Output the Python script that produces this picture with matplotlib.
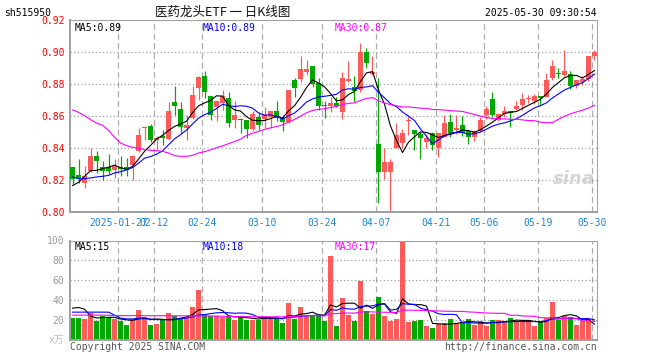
import numpy as np
import pandas as pd
import matplotlib
matplotlib.use('Agg')
import matplotlib.pyplot as plt

plt.rcParams['font.family'] = ['DejaVu Sans Mono', 'Noto Sans CJK SC']

# trading days shown (2025)
dates = [
    '01-15', '01-16', '01-17', '01-20', '01-21', '01-22', '01-23', '01-24', '01-27',
    '02-05', '02-06', '02-07', '02-10', '02-11', '02-12', '02-13', '02-14', '02-17',
    '02-18', '02-19', '02-20', '02-21', '02-24', '02-25', '02-26', '02-27', '02-28',
    '03-03', '03-04', '03-05', '03-06', '03-07', '03-10', '03-11', '03-12', '03-13',
    '03-14', '03-17', '03-18', '03-19', '03-20', '03-21', '03-24', '03-25', '03-26',
    '03-27', '03-28', '03-31',
    '04-01', '04-02', '04-03', '04-07', '04-08', '04-09', '04-10', '04-11', '04-14',
    '04-15', '04-16', '04-17', '04-18', '04-21', '04-22', '04-23', '04-24', '04-25',
    '04-28', '04-29', '04-30',
    '05-06', '05-07', '05-08', '05-09', '05-12', '05-13', '05-14', '05-15', '05-16',
    '05-19', '05-20', '05-21', '05-22', '05-23', '05-26', '05-27', '05-28', '05-29',
    '05-30',
]
tick_dates = ['01-27', '02-12', '02-24', '03-10', '03-24', '04-07', '04-21', '05-06', '05-19', '05-30']
tick_text = ['2025-01-27', '02-12', '02-24', '03-10', '03-24', '04-07', '04-21', '05-06', '05-19', '05-30']

opn = [0.8283, 0.8229, 0.8183, 0.8256, 0.8348, 0.8283, 0.8283, 0.8260, 0.8283, 0.8283,
       0.8294, 0.8383, 0.8525, 0.8538, 0.8448, 0.8477, 0.8458, 0.8685, 0.8646, 0.8525,
       0.8588, 0.8777, 0.8850, 0.8725, 0.8658, 0.8679, 0.8710, 0.8575, 0.8577, 0.8575,
       0.8517, 0.8596, 0.8579, 0.8596, 0.8631, 0.8585, 0.8560, 0.8825, 0.8831, 0.8877,
       0.8913, 0.8804, 0.8665, 0.8663, 0.8679, 0.8627, 0.8819, 0.8783, 0.8763, 0.8998,
       0.8860, 0.8425, 0.8248, 0.8248, 0.8402, 0.8429, 0.8569, 0.8513, 0.8485, 0.8435,
       0.8492, 0.8402, 0.8471, 0.8560, 0.8515, 0.8546, 0.8504, 0.8469, 0.8504, 0.8608,
       0.8706, 0.8577, 0.8615, 0.8633, 0.8646, 0.8667, 0.8708, 0.8696, 0.8723, 0.8719,
       0.8838, 0.8866, 0.8858, 0.8865, 0.8790, 0.8813, 0.8833, 0.8977]
high = [0.8283, 0.8333, 0.8288, 0.8402, 0.8381, 0.8319, 0.8365, 0.8329, 0.8350, 0.8335,
        0.8356, 0.8527, 0.8540, 0.8550, 0.8477, 0.8515, 0.8685, 0.8785, 0.8685, 0.8608,
        0.8785, 0.8852, 0.8881, 0.8725, 0.8694, 0.8763, 0.8752, 0.8694, 0.8585, 0.8575,
        0.8631, 0.8623, 0.8658, 0.8631, 0.8694, 0.8606, 0.8763, 0.8840, 0.8975, 0.8950,
        0.8913, 0.8835, 0.8694, 0.8721, 0.8721, 0.8877, 0.8944, 0.8852, 0.9054, 0.9027,
        0.8977, 0.8835, 0.8398, 0.8331, 0.8554, 0.8517, 0.8600, 0.8513, 0.8502, 0.8485,
        0.8502, 0.8492, 0.8606, 0.8613, 0.8604, 0.8598, 0.8515, 0.8515, 0.8594, 0.8660,
        0.8748, 0.8615, 0.8665, 0.8633, 0.8696, 0.8744, 0.8733, 0.8738, 0.8723, 0.8869,
        0.8952, 0.8900, 0.9015, 0.8879, 0.8827, 0.8848, 0.8977, 0.9015]
low = [0.8173, 0.8183, 0.8152, 0.8250, 0.8246, 0.8198, 0.8235, 0.8215, 0.8225, 0.8225,
       0.8200, 0.8377, 0.8452, 0.8440, 0.8390, 0.8421, 0.8452, 0.8608, 0.8494, 0.8452,
       0.8581, 0.8702, 0.8710, 0.8575, 0.8569, 0.8638, 0.8533, 0.8523, 0.8492, 0.8460,
       0.8506, 0.8513, 0.8523, 0.8523, 0.8569, 0.8506, 0.8554, 0.8721, 0.8815, 0.8856,
       0.8783, 0.8638, 0.8590, 0.8627, 0.8658, 0.8579, 0.8815, 0.8690, 0.8752, 0.8898,
       0.8856, 0.8054, 0.8206, 0.8008, 0.8402, 0.8398, 0.8481, 0.8388, 0.8329, 0.8402,
       0.8388, 0.8342, 0.8471, 0.8471, 0.8488, 0.8473, 0.8425, 0.8442, 0.8498, 0.8581,
       0.8594, 0.8567, 0.8594, 0.8531, 0.8635, 0.8635, 0.8681, 0.8677, 0.8671, 0.8719,
       0.8827, 0.8838, 0.8848, 0.8769, 0.8775, 0.8796, 0.8821, 0.8952]
close = [0.8204, 0.8210, 0.8222, 0.8348, 0.8317, 0.8256, 0.8256, 0.8288, 0.8267, 0.8263,
         0.8350, 0.8483, 0.8533, 0.8450, 0.8465, 0.8465, 0.8633, 0.8660, 0.8531, 0.8546,
         0.8733, 0.8846, 0.8752, 0.8606, 0.8694, 0.8725, 0.8558, 0.8606, 0.8573, 0.8517,
         0.8613, 0.8544, 0.8613, 0.8631, 0.8590, 0.8560, 0.8763, 0.8777, 0.8894, 0.8894,
         0.8800, 0.8665, 0.8660, 0.8683, 0.8663, 0.8835, 0.8829, 0.8756, 0.8998, 0.8929,
         0.8877, 0.8252, 0.8315, 0.8315, 0.8481, 0.8496, 0.8575, 0.8485, 0.8465, 0.8465,
         0.8419, 0.8492, 0.8554, 0.8496, 0.8528, 0.8494, 0.8469, 0.8504, 0.8577, 0.8646,
         0.8608, 0.8615, 0.8633, 0.8619, 0.8665, 0.8706, 0.8712, 0.8727, 0.8713, 0.8827,
         0.8915, 0.8862, 0.8879, 0.8785, 0.8827, 0.8833, 0.8977, 0.9000]
volume = [22.0, 22.0, 21.0, 27.0, 18.6, 24.3, 23.0, 21.0, 18.6, 14.6,
          21.6, 30.0, 23.0, 14.6, 16.0, 20.3, 27.0, 24.3, 22.0, 22.0,
          33.0, 50.0, 26.0, 24.3, 24.3, 23.0, 24.3, 20.0, 24.6, 20.3,
          20.0, 20.6, 23.6, 23.6, 21.6, 17.0, 37.0, 21.3, 33.0, 24.3,
          24.3, 24.0, 19.3, 84.3, 14.0, 42.0, 25.3, 19.3, 59.3, 29.3,
          26.0, 43.0, 24.0, 19.3, 21.0, 99.5, 18.0, 19.3, 20.0, 14.3,
          12.0, 16.0, 17.0, 21.0, 17.0, 17.6, 21.0, 14.6, 18.6, 13.6,
          20.0, 20.0, 19.3, 22.0, 18.6, 18.6, 20.0, 14.3, 18.6, 22.0,
          38.0, 20.0, 24.3, 23.3, 15.3, 18.6, 21.0, 1.0]

# moving-average values at the left edge (history before the window)
ma5_head = [0.8165, 0.8185, 0.8223, 0.8258]
ma10_head = [0.8219, 0.8208, 0.8208, 0.8213, 0.8219, 0.8223, 0.8229, 0.8244, 0.8252]
ma30_head = [0.8638, 0.8623, 0.8602, 0.8577, 0.8556, 0.8542, 0.8510, 0.8467, 0.8431, 0.8415,
             0.8404, 0.8398, 0.8390, 0.8385, 0.8383, 0.8379, 0.8369, 0.8352, 0.8348, 0.8348,
             0.8354, 0.8369, 0.8377, 0.8388, 0.8402, 0.8413, 0.8427, 0.8440, 0.8456]
vma5_head = [32.0, 32.7, 31.0, 24.0]
vma10_head = [28.0, 28.0, 28.0, 28.0, 28.0, 28.0, 28.0, 25.0, 22.0]
vma30_head = [25.0, 25.0, 25.0, 25.0, 25.0, 25.0, 24.8, 24.6, 24.5, 24.5,
              24.5, 24.5, 24.4, 24.4, 24.4, 24.4, 24.3, 24.3, 24.3, 24.3,
              24.3, 24.3, 24.2, 24.1, 24.0, 23.9, 23.8, 23.7, 23.6]


def moving(vals, n, head):
    m = pd.Series(vals).rolling(n).mean().to_numpy()
    m[:len(head)] = head
    return m


x = np.arange(len(dates))
o = np.array(opn); c = np.array(close); h = np.array(high); l = np.array(low)
v = np.array(volume)
up = c >= o
RED, GREEN = '#ff5a5a', '#00a800'
cols = np.where(up, RED, GREEN)

ma5 = moving(close, 5, ma5_head)
ma10 = moving(close, 10, ma10_head)
ma30 = moving(close, 30, ma30_head)
vma5 = moving(volume, 5, vma5_head)
vma10 = moving(volume, 10, vma10_head)
vma30 = moving(volume, 30, vma30_head)

W, H = 660, 360
fig = plt.figure(figsize=(6.6, 3.6), dpi=100)
fig.patch.set_facecolor('white')

ax1 = fig.add_axes([70 / W, 1 - 212 / H, 527 / W, 192 / H])
ax2 = fig.add_axes([70 / W, 1 - 340 / H, 527 / W, 99.5 / H])

tick_pos = [dates.index(d) - 0.37 for d in tick_dates]
px = 0.72  # one pixel in points

for ax in (ax1, ax2):
    ax.set_xlim(-0.42, len(dates) - 0.58)
    ax.set_xticks(tick_pos)
    ax.xaxis.grid(True, linestyle=(0, (5, 3)), color='#aaaaaa', linewidth=1.2 * px)
    ax.yaxis.grid(True, linestyle=(0, (1, 2)), color='#999999', linewidth=1.2 * px)
    ax.set_axisbelow(True)
    for s in ax.spines.values():
        s.set_color('#a0a0a0')
        s.set_linewidth(px)
    ax.spines['left'].set_linewidth(2 * px)
    ax.spines['bottom'].set_linewidth(2 * px)
    ax.tick_params(length=0)

# price panel
body_low = np.minimum(o, c)
body_h = np.maximum(np.abs(c - o), 0.0006)
ax1.vlines(x, l, h, colors=cols, linewidth=1.2 * px, zorder=2)
ax1.bar(x, body_h, bottom=body_low, width=0.83, color=cols, linewidth=0, zorder=3)
ax1.plot(x, ma5, color='black', linewidth=1.1 * px, zorder=4)
ax1.plot(x, ma10, color='#0000ff', linewidth=1.1 * px, zorder=4)
ax1.plot(x, ma30, color='#ff00ff', linewidth=1.1 * px, zorder=4)
ax1.set_ylim(0.80, 0.92)
ax1.set_yticks([0.80, 0.82, 0.84, 0.86, 0.88, 0.90, 0.92])
ax1.set_yticklabels(['%.2f' % t for t in ax1.get_yticks()], color='#ff0000', fontsize=7)
ax1.set_xticklabels(tick_text, color='#1a86d6', fontsize=7)
ax1.tick_params(axis='x', pad=4)
ax1.tick_params(axis='y', pad=4)

ax1.text(0.008, 0.985, 'MA5:0.89', transform=ax1.transAxes, ha='left', va='top', fontsize=7, color='black')
ax1.text(0.252, 0.985, 'MA10:0.89', transform=ax1.transAxes, ha='left', va='top', fontsize=7, color='#0000ff')
ax1.text(0.502, 0.985, 'MA30:0.87', transform=ax1.transAxes, ha='left', va='top', fontsize=7, color='#ff00ff')
ax1.text(0.995, 0.17, 'sina', transform=ax1.transAxes, ha='right', va='center', fontsize=13,
         color='#d4d4d4', style='italic', fontweight='bold', family='DejaVu Sans', zorder=1)

# volume panel
ax2.bar(x, v, width=0.83, color=cols, linewidth=0, zorder=2)
ax2.plot(x, vma5, color='black', linewidth=1.1 * px, zorder=4)
ax2.plot(x, vma10, color='#0000ff', linewidth=1.1 * px, zorder=4)
ax2.plot(x, vma30, color='#ff00ff', linewidth=1.1 * px, zorder=4)
ax2.set_ylim(0, 100)
ax2.set_yticks([20, 40, 60, 80, 100])
ax2.set_yticklabels(['20', '40', '60', '80', '100'], color='#999999', fontsize=7)
ax2.set_xticklabels([])
ax2.tick_params(axis='y', pad=4)

ax2.text(0.008, 0.985, 'MA5:15', transform=ax2.transAxes, ha='left', va='top', fontsize=7, color='black')
ax2.text(0.252, 0.985, 'MA10:18', transform=ax2.transAxes, ha='left', va='top', fontsize=7, color='#0000ff')
ax2.text(0.502, 0.985, 'MA30:17', transform=ax2.transAxes, ha='left', va='top', fontsize=7, color='#ff00ff')

# header and footer
fig.text(4 / W, 1 - 13 / H, 'sh515950', ha='left', va='center', fontsize=7, color='black')
fig.text(223 / W, 1 - 12 / H, '医药龙头ETF 一 日K线图', ha='center', va='center', fontsize=9,
         color='#111111', family=['Noto Sans CJK SC', 'DejaVu Sans'])
fig.text(597 / W, 1 - 13 / H, '2025-05-30 09:30:54', ha='right', va='center', fontsize=7, color='black')
fig.text(70 / W, 1 - 347 / H, 'Copyright 2025 SINA.COM', ha='left', va='center', fontsize=7, color='#555555')
fig.text(597 / W, 1 - 347 / H, 'http://finance.sina.com.cn', ha='right', va='center', fontsize=7, color='#555555')
fig.text(64 / W, 1 - 340 / H, 'x万', ha='right', va='center', fontsize=7, color='#bbbbbb',
         family=['DejaVu Sans Mono', 'Noto Sans CJK SC'])

fig.savefig('out.png', dpi=100)
